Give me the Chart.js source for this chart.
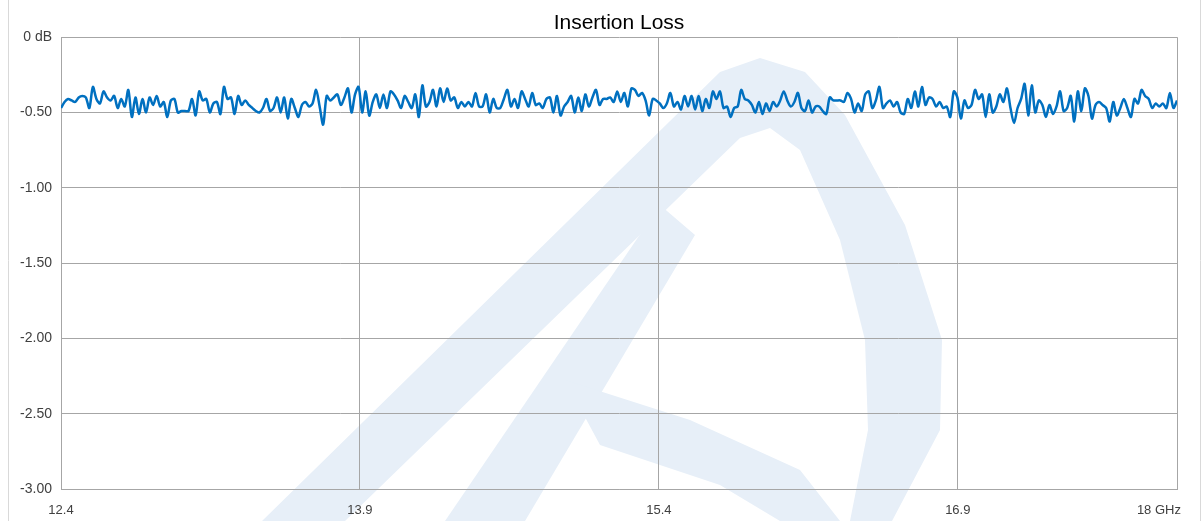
<!DOCTYPE html>
<html>
<head>
<meta charset="utf-8">
<script src="https://cdn.jsdelivr.net/npm/chart.js@4.4.1/dist/chart.umd.min.js"></script>
<style>
  body { margin: 0; background: #fff; }
  #wrap { width: 1204px; height: 521px; }
</style>
</head>
<body>
<div id="wrap"><canvas id="chart" width="1204" height="521"></canvas></div>
<script>
// Frequency sweep limits (GHz) and axis ticks
const freqStart = 12.4;
const freqStop = 18;
const freqTicks = [12.4, 13.9, 15.4, 16.9, 18];
const dbTicks = [0, -0.5, -1, -1.5, -2, -2.5, -3];

// Insertion loss (dB), evenly spaced across the sweep
const lossDb = [
  -0.47, -0.43, -0.41, -0.42, -0.43, -0.40, -0.39, -0.40, -0.47, -0.33, -0.41, -0.44, -0.36, -0.40, -0.42, -0.39,
  -0.47, -0.41, -0.46, -0.35, -0.53, -0.40, -0.51, -0.41, -0.50, -0.40, -0.45, -0.39, -0.46, -0.43, -0.53, -0.42,
  -0.41, -0.50, -0.49, -0.49, -0.49, -0.41, -0.52, -0.36, -0.42, -0.41, -0.50, -0.44, -0.43, -0.51, -0.33, -0.41,
  -0.40, -0.51, -0.39, -0.45, -0.42, -0.45, -0.47, -0.49, -0.50, -0.47, -0.41, -0.49, -0.47, -0.40, -0.50, -0.40, -0.54,
  -0.41, -0.47, -0.53, -0.45, -0.43, -0.46, -0.44, -0.35, -0.46, -0.58, -0.39, -0.42, -0.40, -0.38, -0.45, -0.40,
  -0.34, -0.50, -0.38, -0.33, -0.50, -0.36, -0.52, -0.43, -0.38, -0.47, -0.38, -0.47, -0.36,
  -0.38, -0.42, -0.47, -0.39, -0.43, -0.47, -0.38, -0.53, -0.32, -0.46, -0.43, -0.35, -0.46, -0.34, -0.43, -0.34,
  -0.42, -0.40, -0.47, -0.43, -0.46, -0.43, -0.46, -0.37, -0.46, -0.46, -0.38, -0.50, -0.41, -0.47,
  -0.47, -0.41, -0.35, -0.46, -0.41, -0.47, -0.36, -0.41, -0.46, -0.37, -0.45, -0.44, -0.47, -0.41, -0.40, -0.50,
  -0.39, -0.52, -0.46, -0.43, -0.39, -0.50, -0.40, -0.49, -0.38, -0.46, -0.40, -0.35, -0.45, -0.41,
  -0.41, -0.40, -0.43, -0.36, -0.43, -0.37, -0.46, -0.34, -0.35, -0.39, -0.37, -0.42, -0.52, -0.41, -0.42, -0.44,
  -0.47, -0.44, -0.37, -0.46, -0.43, -0.48, -0.39, -0.46, -0.39, -0.48, -0.39,
  -0.49, -0.41, -0.47, -0.36, -0.41, -0.36, -0.47, -0.46, -0.53, -0.47, -0.46, -0.35, -0.41, -0.42, -0.45, -0.50,
  -0.43, -0.51, -0.44, -0.49, -0.43, -0.46, -0.42, -0.36, -0.42, -0.46, -0.43, -0.37, -0.47, -0.49, -0.42, -0.50, -0.46,
  -0.46, -0.49, -0.51, -0.40, -0.42, -0.42, -0.42, -0.43, -0.37, -0.41, -0.50, -0.44, -0.49, -0.38, -0.36, -0.47,
  -0.42, -0.33, -0.47, -0.44, -0.42, -0.46, -0.43, -0.50, -0.51, -0.41, -0.47, -0.36, -0.46, -0.33, -0.45, -0.40,
  -0.41, -0.46, -0.43, -0.47, -0.46, -0.53, -0.36, -0.40, -0.54, -0.42, -0.47, -0.45, -0.35, -0.41, -0.38, -0.53,
  -0.38, -0.50, -0.46, -0.38, -0.43, -0.34, -0.47, -0.57, -0.47, -0.41, -0.31, -0.52, -0.32, -0.50, -0.42, -0.45, -0.53, -0.45,
  -0.51, -0.46, -0.36, -0.49, -0.47, -0.39, -0.56, -0.36, -0.49, -0.34, -0.39, -0.54, -0.45, -0.43, -0.45, -0.47,
  -0.56, -0.43, -0.52, -0.47, -0.41, -0.47, -0.53, -0.41, -0.44, -0.35, -0.39, -0.41, -0.47, -0.44, -0.46, -0.44,
  -0.47, -0.37, -0.47, -0.42
];

const points = lossDb.map((y, i) => ({
    x: freqStart + i * (freqStop - freqStart) / (lossDb.length - 1),
    y: y
}));

const gridColor = '#a6a6a6';
const textColor = '#404040';
const fontFamily = "'Liberation Sans', Arial, sans-serif";

// Faint logo in the background and the outer chart frame
const backdrop = {
    id: 'backdrop',
    beforeDraw(chart) {
        const ctx = chart.ctx;
        ctx.save();
        ctx.fillStyle = '#e7eff8';
        const trace = pts => pts.forEach((p, i) => i ? ctx.lineTo(p[0], p[1]) : ctx.moveTo(p[0], p[1]));
        // outline of the logo, with its hollow middle
        ctx.beginPath();
        trace([[262, 521], [720, 72], [760, 58], [805, 72], [845, 115], [905, 225], [942, 340], [940, 430], [892, 521]]);
        ctx.closePath();
        trace([[850, 521], [868, 430], [865, 340], [840, 240], [800, 150], [770, 128], [740, 138], [345, 521]]);
        ctx.closePath();
        ctx.fill('evenodd');
        // inner strokes of the letter
        [
            [[445, 521], [525, 521], [695, 235], [660, 205]],
            [[565, 380], [600, 445], [720, 485], [780, 521], [840, 521], [800, 470], [690, 420]]
        ].forEach(pts => {
            ctx.beginPath();
            trace(pts);
            ctx.closePath();
            ctx.fill();
        });
        ctx.strokeStyle = '#d9d9d9';
        ctx.lineWidth = 1;
        ctx.beginPath();
        ctx.moveTo(8.5, 0); ctx.lineTo(8.5, 521);
        ctx.moveTo(1200.5, 0); ctx.lineTo(1200.5, 521);
        ctx.stroke();
        ctx.restore();
    }
};

new Chart(document.getElementById('chart'), {
    type: 'line',
    data: {
        datasets: [{
            label: 'Insertion Loss',
            data: points,
            borderColor: '#0070c0',
            borderWidth: 2.5,
            pointRadius: 0,
            tension: 0.3,
            fill: false
        }]
    },
    plugins: [backdrop],
    options: {
        responsive: false,
        animation: false,
        devicePixelRatio: 1,
        layout: { padding: { left: 11, right: 27, top: 0, bottom: 0 } },
        plugins: {
            legend: { display: false },
            tooltip: { enabled: false },
            title: {
                display: true,
                fullSize: false,
                text: 'Insertion Loss',
                color: '#000',
                font: { family: fontFamily, size: 21, weight: 'normal' },
                padding: { top: 11, bottom: 1 }
            }
        },
        scales: {
            x: {
                type: 'linear',
                min: freqStart,
                max: freqStop,
                afterBuildTicks: scale => { scale.ticks = freqTicks.map(v => ({ value: v })); },
                afterFit: scale => { scale.height = 32; scale.paddingLeft = 0; scale.paddingRight = 0; },
                grid: { color: gridColor, drawTicks: false },
                border: { color: gridColor },
                ticks: {
                    color: textColor,
                    padding: 14,
                    maxRotation: 0,
                    autoSkip: false,
                    font: { family: fontFamily, size: 13 },
                    callback: v => v === freqStop ? '18 GHz\u2007\u2007\u2007\u2007\u2007' : v.toFixed(1)
                }
            },
            y: {
                min: -3,
                max: 0,
                afterBuildTicks: scale => { scale.ticks = dbTicks.map(v => ({ value: v })); },
                afterFit: scale => { scale.width = 50; },
                grid: { color: gridColor, drawTicks: false },
                border: { color: gridColor },
                ticks: {
                    color: textColor,
                    padding: 9,
                    font: { family: fontFamily, size: 14 },
                    callback: v => v === 0 ? '0 dB' : v.toFixed(2)
                }
            }
        }
    }
});
</script>
</body>
</html>
